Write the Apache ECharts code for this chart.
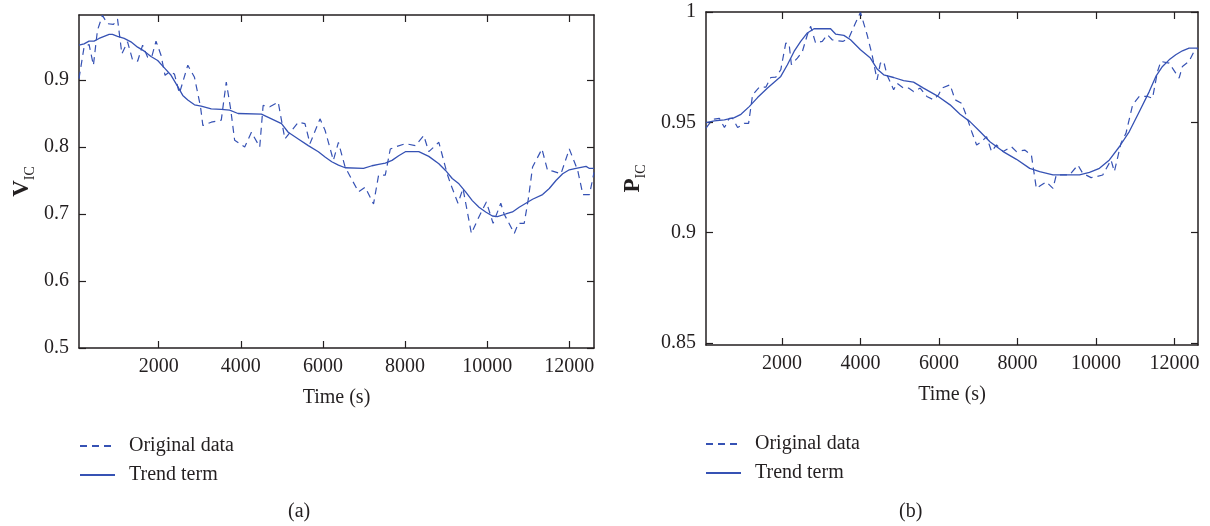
<!DOCTYPE html>
<html><head><meta charset="utf-8">
<script src="https://cdn.jsdelivr.net/npm/echarts@6/dist/echarts.min.js"></script>
<style>html,body{margin:0;padding:0;background:#fff}#c{width:1210px;height:526px}</style>
</head><body><div id="c"></div>
<script>
// ---- tick labels ----
const xTicks = [2000, 4000, 6000, 8000, 10000, 12000];
const yTicksA = [0.5, 0.6, 0.7, 0.8, 0.9];
const yTicksB = [0.85, 0.9, 0.95, 1];

// ---- (a) V_IC ----
const timeOrigA = [60,183,305,411,509,631,753,900,998,1104,1242,1364,1487,1609,1731,1829,1935,2057,2155,2261,2383,2505,2709,2872,3019,3076,3280,3524,3646,3752,3850,4095,4258,4461,4543,4706,4910,5073,5399,5562,5684,5928,6051,6254,6377,6540,6866,7029,7232,7355,7518,7640,7762,8007,8251,8455,8577,8822,9025,9107,9288,9410,9614,9800,9980,10143,10330,10411,10659,10757,10900,11000,11104,11332,11470,11593,11796,11999,12203,12330,12490,12600];
const valOrigA = [0.902,0.949,0.953,0.922,0.974,0.9965,0.984,0.983,0.991,0.939,0.957,0.930,0.928,0.952,0.934,0.934,0.958,0.937,0.907,0.912,0.909,0.880,0.922,0.904,0.860,0.832,0.837,0.840,0.897,0.857,0.810,0.800,0.822,0.800,0.862,0.860,0.867,0.812,0.837,0.835,0.805,0.842,0.825,0.780,0.807,0.770,0.733,0.740,0.715,0.758,0.758,0.797,0.800,0.805,0.802,0.817,0.793,0.807,0.760,0.745,0.716,0.738,0.671,0.696,0.718,0.686,0.716,0.700,0.671,0.686,0.686,0.722,0.770,0.797,0.765,0.764,0.760,0.797,0.765,0.729,0.729,0.762];
const timeTrendA = [60,183,305,427,549,672,794,875,998,1161,1324,1487,1650,1813,1976,2139,2302,2465,2587,2709,2872,3035,3280,3524,3728,3932,4502,4747,4991,5154,5399,5643,5888,6051,6214,6377,6540,6988,7192,7355,7518,7681,7844,8007,8333,8577,8822,8985,9148,9311,9474,9637,9800,9963,10126,10248,10452,10615,10778,10941,11104,11348,11511,11674,11837,11999,12162,12407,12489,12600];
const valTrendA = [0.952,0.954,0.958,0.958,0.962,0.965,0.968,0.968,0.965,0.962,0.957,0.949,0.943,0.935,0.929,0.918,0.907,0.890,0.877,0.870,0.863,0.861,0.857,0.856,0.855,0.850,0.849,0.842,0.835,0.822,0.812,0.802,0.793,0.785,0.778,0.773,0.769,0.768,0.772,0.774,0.776,0.780,0.787,0.793,0.793,0.786,0.775,0.765,0.753,0.745,0.733,0.720,0.710,0.703,0.697,0.696,0.700,0.703,0.710,0.716,0.722,0.729,0.738,0.750,0.760,0.766,0.768,0.771,0.768,0.768];

// ---- (b) P_IC ----
const timeOrigB = [60,150,270,400,530,655,740,866,1036,1146,1247,1416,1585,1712,1839,1966,2093,2178,2237,2389,2516,2643,2728,2854,3024,3151,3277,3404,3557,3700,3870,3997,4166,4293,4420,4504,4589,4673,4843,4927,5096,5223,5350,5519,5689,5858,5985,6069,6281,6408,6577,6704,6831,6958,7085,7211,7338,7465,7634,7846,7973,8184,8353,8480,8607,8734,8903,8988,9157,9326,9538,9665,9876,10003,10172,10384,10468,10637,10764,10934,11103,11314,11441,11568,11653,11864,12033,12118,12203,12372,12499,12600];
const valOrigB = [0.9473,0.9495,0.9514,0.9518,0.9476,0.9518,0.9518,0.9476,0.9495,0.9495,0.9624,0.9659,0.9659,0.9703,0.9705,0.9738,0.9859,0.9855,0.9761,0.9791,0.9821,0.9897,0.9935,0.9859,0.9867,0.9897,0.9874,0.9870,0.9867,0.9882,0.9950,0.9998,0.9897,0.9806,0.9692,0.9768,0.9776,0.9715,0.9647,0.9677,0.9655,0.9655,0.9639,0.9655,0.9617,0.9602,0.9624,0.9655,0.9670,0.9602,0.9586,0.9526,0.9458,0.9397,0.9412,0.9435,0.9367,0.9397,0.9367,0.9389,0.9367,0.9374,0.9352,0.9200,0.9215,0.9230,0.9200,0.9261,0.9261,0.9261,0.9306,0.9268,0.9249,0.9253,0.9261,0.9329,0.9276,0.9405,0.9450,0.9579,0.9617,0.9617,0.9609,0.9730,0.9776,0.9768,0.9723,0.9700,0.9753,0.9776,0.9821,0.9836];
const timeTrendB = [60,274,528,782,951,1162,1374,1628,1966,2135,2305,2474,2643,2812,3235,3362,3574,3743,3997,4250,4420,4589,4843,5096,5350,5604,5942,6281,6535,6788,7042,7296,7634,7973,8311,8565,8903,9580,9834,10088,10342,10595,10849,11103,11357,11526,11695,11864,12033,12203,12372,12600];
const valTrendB = [0.9498,0.9506,0.9511,0.9521,0.9536,0.9571,0.9612,0.9655,0.9708,0.9761,0.9821,0.9867,0.9905,0.9924,0.9924,0.9900,0.9894,0.9874,0.9829,0.9791,0.9742,0.9715,0.9703,0.9689,0.9682,0.9655,0.9621,0.9579,0.9536,0.9503,0.9458,0.9412,0.9367,0.9332,0.9291,0.9276,0.9261,0.9261,0.9273,0.9291,0.9329,0.9389,0.9458,0.9548,0.9639,0.9708,0.9753,0.9783,0.9806,0.9824,0.9836,0.9836];

const zip = (t, v) => t.map((x, i) => [x, v[i]]);
const FONT = 'Liberation Serif';
const INK = '#231f20';
const BLUE = '#3652b4';
const txt = { fontFamily: FONT, fontSize: 20, color: INK };

function xAxes(g) {
  const base = {
    type: 'value', gridIndex: g, min: 60, max: 12600,
    axisLine: { lineStyle: { color: INK, width: 1.5 } },
    splitLine: { show: false }
  };
  return [
    Object.assign({}, base, {
      position: 'bottom',
      axisTick: { inside: true, length: 7, customValues: xTicks, lineStyle: { color: INK, width: 1.2 } },
      axisLabel: Object.assign({ customValues: xTicks, margin: 9, formatter: v => String(v) }, txt),
      name: 'Time (s)', nameLocation: 'middle', nameGap: 40, nameTextStyle: txt
    }),
    Object.assign({}, base, {
      position: 'top',
      axisTick: { inside: true, length: 7, customValues: xTicks, lineStyle: { color: INK, width: 1.2 } },
      axisLabel: { show: false }
    })
  ];
}
function yAxes(g, min, max, ticks, letter, gap) {
  const base = {
    type: 'value', gridIndex: g, min: min, max: max,
    axisLine: { lineStyle: { color: INK, width: 1.5 } },
    splitLine: { show: false }
  };
  return [
    Object.assign({}, base, {
      position: 'left',
      axisTick: { inside: true, length: 7, customValues: ticks, lineStyle: { color: INK, width: 1.2 } },
      axisLabel: Object.assign({ customValues: ticks, margin: 10, formatter: v => String(v) }, txt),
      name: '{v|' + letter + '}{s|IC}', nameLocation: 'middle', nameGap: gap, nameRotate: 90,
      nameTextStyle: {
        rich: {
          v: { fontFamily: FONT, fontSize: 23, fontWeight: 'bold', color: INK, lineHeight: 30, verticalAlign: 'middle' },
          s: { fontFamily: FONT, fontSize: 14, color: INK, verticalAlign: 'bottom' }
        }
      }
    }),
    Object.assign({}, base, {
      position: 'right',
      axisTick: { inside: true, length: 7, customValues: ticks, lineStyle: { color: INK, width: 1.2 } },
      axisLabel: { show: false }
    })
  ];
}

const chart = echarts.init(document.getElementById('c'), null, { renderer: 'canvas' });
const lineBase = { type: 'line', symbol: 'none', smooth: false, animation: false };
const legendBase = {
  data: ['Original data', 'Trend term'], orient: 'vertical', padding: 0,
  itemWidth: 35, itemHeight: 14, itemGap: 9, selectedMode: false,
  itemStyle: { opacity: 0 },
  textStyle: Object.assign({ padding: [0, 0, 0, 9] }, txt)
};
chart.setOption({
  animation: false,
  backgroundColor: '#fff',
  grid: [
    { left: 79, top: 15, width: 515, height: 333 },
    { left: 706, top: 12, width: 492, height: 333 }
  ],
  xAxis: xAxes(0).concat(xAxes(1)),
  yAxis: yAxes(0, 0.5, 0.997, yTicksA, 'V', 42).concat(yAxes(1, 0.849, 1.0, yTicksB, 'P', 58)),
  legend: [
    Object.assign({}, legendBase, { left: 79, top: 436 }),
    Object.assign({}, legendBase, { left: 705, top: 434 })
  ],
  graphic: [
    { type: 'text', left: 288, top: 502, style: { text: '(a)', fontFamily: FONT, fontSize: 20, fill: INK } },
    { type: 'text', left: 899, top: 502, style: { text: '(b)', fontFamily: FONT, fontSize: 20, fill: INK } }
  ],
  series: [
    Object.assign({}, lineBase, { name: 'Original data', xAxisIndex: 0, yAxisIndex: 0, data: zip(timeOrigA, valOrigA),
      lineStyle: { color: BLUE, width: 1.2, type: [7, 5] }, itemStyle: { color: BLUE } }),
    Object.assign({}, lineBase, { name: 'Trend term', xAxisIndex: 0, yAxisIndex: 0, data: zip(timeTrendA, valTrendA),
      lineStyle: { color: BLUE, width: 1.3 }, itemStyle: { color: BLUE } }),
    Object.assign({}, lineBase, { name: 'Original data', xAxisIndex: 2, yAxisIndex: 2, data: zip(timeOrigB, valOrigB),
      lineStyle: { color: BLUE, width: 1.2, type: [7, 5] }, itemStyle: { color: BLUE } }),
    Object.assign({}, lineBase, { name: 'Trend term', xAxisIndex: 2, yAxisIndex: 2, data: zip(timeTrendB, valTrendB),
      lineStyle: { color: BLUE, width: 1.3 }, itemStyle: { color: BLUE } })
  ]
});
</script>
</body></html>
